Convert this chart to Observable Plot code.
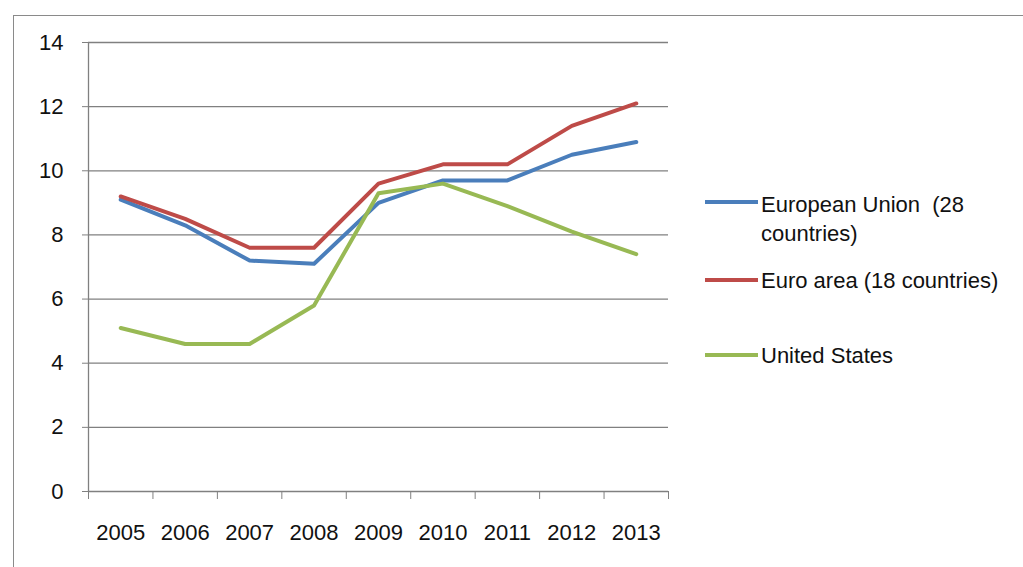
<!DOCTYPE html>
<html><head><meta charset="utf-8">
<script src="https://cdn.jsdelivr.net/npm/d3@7"></script>
<script src="https://cdn.jsdelivr.net/npm/@observablehq/plot@0.6"></script>
<style>
body{margin:0;background:#fff;}
#wrap{position:relative;width:1023px;height:567px;overflow:hidden;font-family:"Liberation Sans",Arial,sans-serif;background:#fff;}
#frame{position:absolute;left:13px;top:15px;right:-4px;bottom:-4px;border-left:1.5px solid #8a8a8a;border-top:1.5px solid #8a8a8a;}
#chart{position:absolute;left:0;top:0;}
#legend{position:absolute;left:705px;top:0;font-size:22px;color:#111;}
.sw{position:absolute;left:0;width:53px;height:4px;}
.lbl{position:absolute;left:56px;line-height:29px;white-space:nowrap;}
</style>
</head><body>
<div id="wrap"><div id="frame"></div><div id="chart"></div><div id="legend"></div></div>
<script>
const years = [2005, 2006, 2007, 2008, 2009, 2010, 2011, 2012, 2013];
const euValues = [9.1, 8.3, 7.2, 7.1, 9.0, 9.7, 9.7, 10.5, 10.9];
const eaValues = [9.2, 8.5, 7.6, 7.6, 9.6, 10.2, 10.2, 11.4, 12.1];
const usValues = [5.1, 4.6, 4.6, 5.8, 9.3, 9.6, 8.9, 8.1, 7.4];
const yTicks = [0, 2, 4, 6, 8, 10, 12, 14];
const seriesNames = ["European Union&nbsp; (28<br>countries)", "Euro area (18 countries)", "United States"];
const seriesColors = ["#4A7EBB", "#BE4B48", "#98B954"];
const seriesValues = [euValues, eaValues, usValues];

const categoryEdges = years.map(y => y - 0.5).concat([years[years.length - 1] + 0.5]);
const gridColor = "#808080";

const lineMarks = seriesValues.map((vals, k) =>
  Plot.line(years.map((yr, i) => ({year: yr, value: vals[i]})), {
    x: "year", y: "value", stroke: seriesColors[k], strokeWidth: 4,
    strokeLinejoin: "round", strokeLinecap: "round"
  })
);

const chart = Plot.plot({
  width: 700, height: 567,
  marginLeft: 88, marginRight: 32, marginTop: 42, marginBottom: 76,
  style: {background: "transparent", fontFamily: "'Liberation Sans', Arial, sans-serif", fontSize: "22px", color: "#111"},
  x: {type: "linear", domain: [categoryEdges[0], categoryEdges[categoryEdges.length - 1]], label: null},
  y: {domain: [0, 14], label: null},
  marks: [
    Plot.ruleY(yTicks, {stroke: gridColor, strokeWidth: 1.3}),
    Plot.ruleX([categoryEdges[0]], {stroke: gridColor, strokeWidth: 1.3}),
    Plot.axisY({ticks: yTicks, tickSize: 6, tickPadding: 19, stroke: gridColor, fill: "#111", fontSize: 22, label: null}),
    Plot.axisX({ticks: categoryEdges, tickSize: 8, tickFormat: () => "", stroke: gridColor, label: null}),
    Plot.axisX({ticks: years, tickSize: 0, tickPadding: 33, tickFormat: d => String(d), fill: "#111", fontSize: 22, label: null}),
    ...lineMarks
  ]
});
document.getElementById("chart").appendChild(chart);

const legendSwatchY = [201.7, 280, 355];
const legendTextTop = [190, 266, 341];
const legend = document.getElementById("legend");
seriesNames.forEach((name, k) => {
  const sw = document.createElement("div");
  sw.className = "sw";
  sw.style.top = (legendSwatchY[k] - 2) + "px";
  sw.style.background = seriesColors[k];
  legend.appendChild(sw);
  const lb = document.createElement("div");
  lb.className = "lbl";
  lb.style.top = legendTextTop[k] + "px";
  lb.innerHTML = name;
  legend.appendChild(lb);
});
</script>
</body></html>
